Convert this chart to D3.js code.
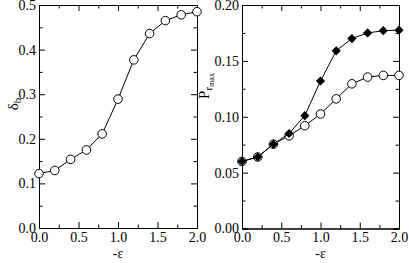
<!DOCTYPE html>
<html><head><meta charset="utf-8">
<script src="https://cdn.jsdelivr.net/npm/d3@7"></script>
<style>body{margin:0;background:#fff}svg{display:block}</style>
</head><body>
<script>
const eps = [0.0,0.2,0.4,0.6,0.8,1.0,1.2,1.4,1.6,1.8,2.0];
const deltaB = [0.122,0.129,0.154,0.175,0.211,0.289,0.377,0.436,0.465,0.478,0.485];
const prFilled = [0.060,0.064,0.0755,0.085,0.101,0.132,0.159,0.170,0.175,0.177,0.1775];
const prOpen = [0.060,0.064,0.0755,0.083,0.092,0.1025,0.116,0.1295,0.1355,0.137,0.137];
const xTicks = [0,0.5,1,1.5,2];
const yTicksL = [0,0.1,0.2,0.3,0.4,0.5];
const yTicksR = [0,0.05,0.1,0.15,0.2];

const FONT = "'Liberation Serif', 'Times New Roman', Times, serif";
const W=409,H=263;
const svg=d3.select("body").append("svg").attr("width",W).attr("height",H)
  .style("font-family",FONT);

function panel(x0,x1,y0,y1,yDomain,yTicks,yMinorStep,yFmt){
  const x=d3.scaleLinear().domain([0,2]).range([x0,x1]);
  const y=d3.scaleLinear().domain(yDomain).range([y1,y0]);
  const g=svg.append("g");
  const xMinor=d3.range(0,2.0001,0.25).filter(v=>!xTicks.some(t=>Math.abs(t-v)<1e-9));
  const yMinor=d3.range(yDomain[0],yDomain[1]+1e-9,yMinorStep).filter(v=>!yTicks.some(t=>Math.abs(t-v)<1e-9));
  const bot=g.append("g").attr("transform",`translate(0,${y1})`)
    .call(d3.axisBottom(x).tickValues(xTicks).tickSize(-6).tickFormat(d3.format(".1f")).tickPadding(4));
  bot.append("g").call(d3.axisBottom(x).tickValues(xMinor).tickSize(-3.5).tickFormat(""));
  const top=g.append("g").attr("transform",`translate(0,${y0})`)
    .call(d3.axisTop(x).tickValues(xTicks).tickSize(-6).tickFormat(""));
  top.append("g").call(d3.axisTop(x).tickValues(xMinor).tickSize(-3.5).tickFormat(""));
  const lft=g.append("g").attr("transform",`translate(${x0},0)`)
    .call(d3.axisLeft(y).tickValues(yTicks).tickSize(-6).tickFormat(d3.format(yFmt)).tickPadding(3));
  lft.append("g").call(d3.axisLeft(y).tickValues(yMinor).tickSize(-3.5).tickFormat(""));
  const rgt=g.append("g").attr("transform",`translate(${x1},0)`)
    .call(d3.axisRight(y).tickValues(yTicks).tickSize(-6).tickFormat(""));
  rgt.append("g").call(d3.axisRight(y).tickValues(yMinor).tickSize(-3.5).tickFormat(""));
  g.selectAll("g").attr("font-family",null).style("font-family",FONT);
  g.selectAll(".domain").attr("stroke","#000");
  g.selectAll(".tick line").attr("stroke","#000");
  g.selectAll(".tick text").attr("font-size",14).attr("fill","#000").style("font-family",FONT);
  g.append("text").attr("x",(x0+x1)/2).attr("y",258).attr("text-anchor","middle")
    .attr("font-size",14).style("font-family",FONT).text("-ε");
  return {g,x,y};
}

const L=panel(39,197,5,228,[0,0.5],yTicksL,0.05,".1f");
const R=panel(242,399,5,228.5,[0,0.2],yTicksR,0.025,".2f");

L.g.append("text").attr("transform","translate(18,104) rotate(-90)").attr("text-anchor","middle")
  .attr("font-size",15).style("font-family",FONT).html('δ<tspan font-size="11" dy="3">b</tspan>');
R.g.append("text").attr("transform","translate(209,86) rotate(-90)").attr("text-anchor","middle")
  .attr("font-size",15).style("font-family",FONT).html('P<tspan font-size="11" dy="3">r</tspan><tspan font-size="8" dy="2">max</tspan>');

const lineGen=(p,arr)=>d3.line().x((d,i)=>p.x(eps[i])).y(d=>p.y(d))(arr);

L.g.append("path").attr("d",lineGen(L,deltaB)).attr("fill","none").attr("stroke","#000").attr("stroke-width",1);
L.g.selectAll("circle.o").data(deltaB).enter().append("circle")
  .attr("cx",(d,i)=>L.x(eps[i])).attr("cy",d=>L.y(d)).attr("r",4.3)
  .attr("fill","#fff").attr("stroke","#000").attr("stroke-width",1);

R.g.append("path").attr("d",lineGen(R,prOpen)).attr("fill","none").attr("stroke","#000").attr("stroke-width",1);
R.g.selectAll("circle.o").data(prOpen).enter().append("circle")
  .attr("cx",(d,i)=>R.x(eps[i])).attr("cy",d=>R.y(d)).attr("r",4.3)
  .attr("fill","#fff").attr("stroke","#000").attr("stroke-width",1);
R.g.append("path").attr("d",lineGen(R,prFilled)).attr("fill","none").attr("stroke","#000").attr("stroke-width",1);
const dsz=4.6;
R.g.selectAll("path.dia").data(prFilled).enter().append("path").attr("class","dia")
  .attr("d",(d,i)=>{const cx=R.x(eps[i]),cy=R.y(d);return `M${cx},${cy-dsz}L${cx+dsz},${cy}L${cx},${cy+dsz}L${cx-dsz},${cy}Z`;})
  .attr("fill","#000");
</script>
</body></html>
